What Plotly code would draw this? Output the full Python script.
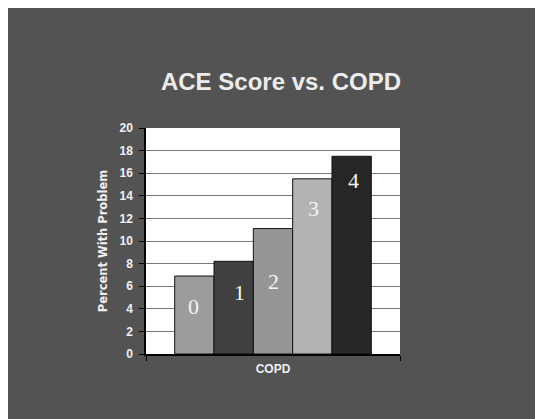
import plotly.graph_objects as go

# ---- data ----
category = ["COPD"]
ace_scores = ["0", "1", "2", "3", "4"]
percent_with_problem = [6.9, 8.2, 11.1, 15.5, 17.5]
bar_colors = ["#9c9c9c", "#404040", "#969696", "#b3b3b3", "#262626"]
y_ticks = [0, 2, 4, 6, 8, 10, 12, 14, 16, 18, 20]

# label placement (pixels) relative to bar group / bar top
label_xshift = [-80, -34, 0, 40, 80]
label_drop = [30, 31, 53, 30, 24]

# page body has an 8px margin, so figure coords are offset by 8px
W, H = 543, 419
L, T = 138, 120
R = W - 392
B = H - 346

fig = go.Figure()
for name, val, col in zip(ace_scores, percent_with_problem, bar_colors):
    fig.add_trace(go.Bar(
        x=category, y=[val], name=name,
        marker=dict(color=col, line=dict(color="#111111", width=1)),
        showlegend=False, hoverinfo="skip",
    ))

annotations = []
for name, val, xs, dr in zip(ace_scores, percent_with_problem, label_xshift, label_drop):
    annotations.append(dict(
        x=category[0], y=val, xref="x", yref="y", text=name, showarrow=False,
        xshift=xs, yshift=-dr, yanchor="middle", xanchor="center",
        font=dict(family="Liberation Serif", size=22, color="#f4f4f4"),
    ))

axis_font = dict(family="Liberation Sans", size=12, color="#f0f0f0", weight="bold")

fig.update_layout(
    width=W, height=H,
    margin=dict(l=L, r=R, t=T, b=B, pad=0),
    paper_bgcolor="#535353",
    plot_bgcolor="white",
    barmode="group", bargap=0.226, bargroupgap=0,
    title=dict(text="<b>ACE Score vs. COPD</b>", x=(281 - 8) / W, xanchor="center",
               y=1 - (82 - 8) / H, yanchor="middle", xref="container", yref="container",
               font=dict(family="Liberation Sans", size=24, color="#ececec")),
    xaxis=dict(
        showline=True, linecolor="black", linewidth=1.5,
        ticks="outside", tickson="boundaries", ticklen=5, tickcolor="black",
        tickfont=axis_font, ticklabelstandoff=3, showgrid=False,
    ),
    yaxis=dict(
        range=[0, 20], tickvals=y_ticks, ticktext=[str(v) for v in y_ticks],
        showline=True, linecolor="black", linewidth=1.5,
        ticks="outside", ticklen=5, tickcolor="black",
        tickfont=axis_font, ticklabelstandoff=4,
        showgrid=True, gridcolor="#7a7a7a", gridwidth=1.3, zeroline=False,
        title=dict(text="Percent With Problem", standoff=9,
                   font=dict(family="DejaVu Sans", size=11.5, color="#f0f0f0", weight="bold")),
    ),
    yaxis2=dict(
        overlaying="y", range=[0, 20], dtick=4, showticklabels=False, ticks="",
        showgrid=True, gridcolor="black", gridwidth=1.3, zeroline=False, showline=False,
    ),
    annotations=annotations,
)

fig.write_html("out.html")
